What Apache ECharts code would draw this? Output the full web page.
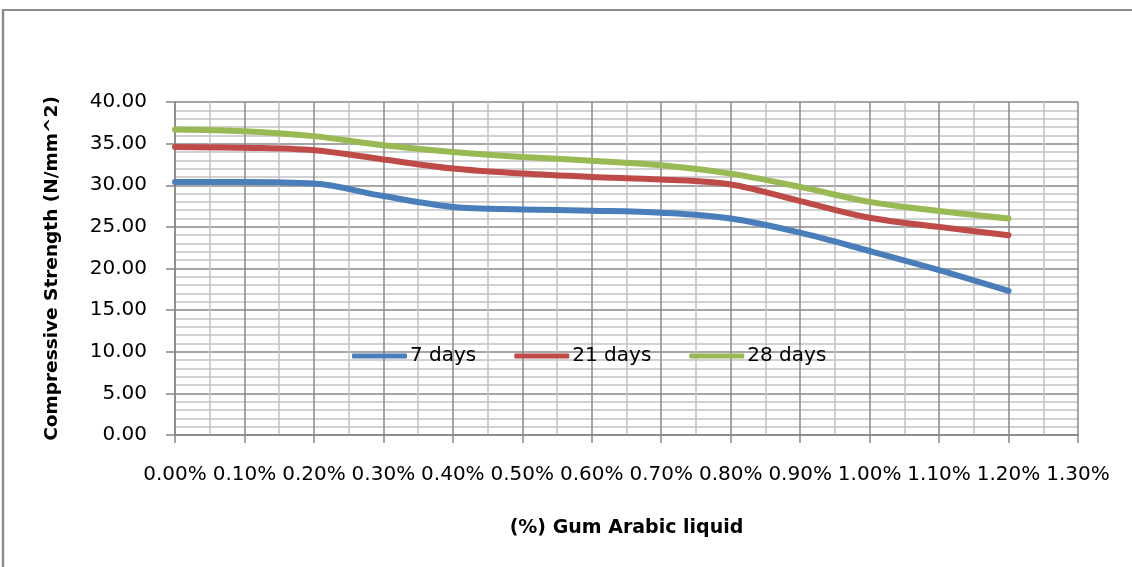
<!DOCTYPE html>
<html>
<head>
<meta charset="utf-8">
<script src="https://cdn.jsdelivr.net/npm/echarts@6/dist/echarts.min.js"></script>
<style>
html,body{margin:0;padding:0;background:#fff;}
#chart{width:1132px;height:567px;}
</style>
</head>
<body>
<div id="chart"></div>
<script>
// Gum Arabic dosage (%)
const dosage = [0.0, 0.1, 0.2, 0.3, 0.4, 0.5, 0.6, 0.7, 0.8, 0.9, 1.0, 1.1, 1.2];
// Compressive strength (N/mm^2)
const days7  = [30.4, 30.4, 30.2, 28.7, 27.4, 27.1, 26.95, 26.7, 26.0, 24.3, 22.1, 19.8, 17.3];
const days21 = [34.6, 34.5, 34.2, 33.1, 32.0, 31.4, 31.0, 30.7, 30.1, 28.1, 26.1, 25.0, 24.0];
const days28 = [36.7, 36.5, 35.9, 34.8, 34.0, 33.4, 32.95, 32.4, 31.4, 29.8, 28.0, 26.9, 26.0];
const seriesNames = ['7 days', '21 days', '28 days'];
const colors = ['#4a7ebb', '#be4b48', '#98b954'];

const pair = arr => dosage.map((x, i) => [x, arr[i]]);

const chart = echarts.init(document.getElementById('chart'), null, {renderer: 'canvas'});
const font = 'DejaVu Sans';
const mkSeries = (name, arr, c) => ({
  name, type: 'line', data: pair(arr), smooth: 0.35, symbol: 'none',
  lineStyle: {color: c, width: 6, cap: 'round', join: 'round'},
  itemStyle: {color: c}
});

chart.setOption({
  animation: false,
  backgroundColor: '#fff',
  color: colors,
  grid: {left: 175, right: 54, top: 102, bottom: 132, containLabel: false},
  graphic: [
    {type: 'line', shape: {x1: 2, y1: 10, x2: 1132, y2: 10}, style: {stroke: '#8c8c8c', lineWidth: 2}, silent: true},
    {type: 'line', shape: {x1: 3, y1: 9, x2: 3, y2: 567}, style: {stroke: '#8c8c8c', lineWidth: 2.5}, silent: true}
  ],
  legend: {
    data: seriesNames,
    left: 347, top: 341,
    icon: 'roundRect', itemWidth: 55, itemHeight: 5, itemGap: 38,
    textStyle: {fontFamily: font, fontSize: 20, color: '#000', padding: [0, 0, 0, -2]}
  },
  xAxis: {
    type: 'value', min: 0, max: 1.3, interval: 0.1,
    name: '(%) Gum Arabic liquid', nameLocation: 'middle', nameGap: 84,
    nameTextStyle: {fontFamily: font, fontSize: 19, fontWeight: 'bold', color: '#000'},
    axisLine: {show: true, lineStyle: {color: '#868686', width: 1.5}},
    axisTick: {show: true, inside: false, length: 8, lineStyle: {color: '#868686', width: 1.5}},
    axisLabel: {fontFamily: font, fontSize: 20, color: '#000', margin: 30,
      formatter: v => v.toFixed(2) + '%'},
    splitLine: {show: true, lineStyle: {color: '#888888', width: 1.5}},
    minorTick: {show: false, splitNumber: 2},
    minorSplitLine: {show: true, lineStyle: {color: '#c2c2c2', width: 1.5}}
  },
  yAxis: {
    type: 'value', min: 0, max: 40, interval: 5,
    name: 'Compressive Strength (N/mm^2)', nameLocation: 'middle', nameGap: 113,
    nameTextStyle: {fontFamily: font, fontSize: 18.5, fontWeight: 'bold', color: '#000'},
    axisLine: {show: true, lineStyle: {color: '#868686', width: 1.5}},
    axisTick: {show: true, length: 9, lineStyle: {color: '#868686', width: 1.5}},
    axisLabel: {fontFamily: font, fontSize: 20, color: '#000', margin: 28,
      formatter: v => v.toFixed(2)},
    splitLine: {show: true, lineStyle: {color: '#888888', width: 1.5}},
    minorTick: {show: false, splitNumber: 5},
    minorSplitLine: {show: true, lineStyle: {color: '#c2c2c2', width: 1.5}}
  },
  series: [
    mkSeries(seriesNames[0], days7, colors[0]),
    mkSeries(seriesNames[1], days21, colors[1]),
    mkSeries(seriesNames[2], days28, colors[2])
  ]
});
</script>
</body>
</html>
